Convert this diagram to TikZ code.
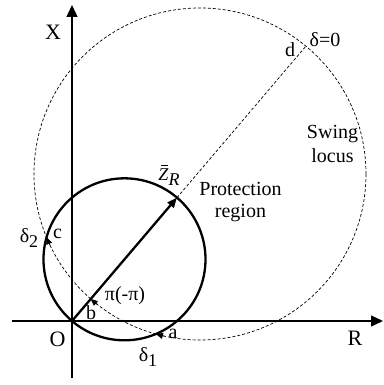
\documentclass[tikz,border=0pt]{standalone}
\usepackage{fontspec}
\setmainfont{Liberation Serif}
\usetikzlibrary{arrows.meta,calc}
\begin{document}
\begin{tikzpicture}[x=1pt,y=1pt,
  lbl/.style={font=\fontsize{20}{22}\selectfont, inner sep=0pt, anchor=base},
  big/.style={lbl, font=\fontsize{22}{24}\selectfont},
  axis/.style={line width=1.3pt, -{Triangle[length=12pt,width=11pt]}},
  locus/.style={line width=0.7pt, dash pattern=on 3pt off 2pt},
  relay/.style={line width=2.3pt},
  swingtip/.style={line width=0.7pt, -{Triangle[length=7pt,width=6pt]}}]
\useasboundingbox (-72,-64) rectangle (311,321);
% axes
\coordinate (O) at (0,0);
\coordinate (xs) at (-60,0); \coordinate (xe) at (311,0);
\coordinate (ys) at (0,-57); \coordinate (ye) at (0,316);
\draw[axis] (xs) -- (xe);
\draw[axis] (ys) -- (ye);
% geometry
\coordinate (S) at (49.6:81);
\coordinate (Z) at (49.6:162);
\coordinate (C) at (128,147);
\coordinate (d) at (49.6:360.9);
% swing locus
\draw[locus] (C) circle[radius=166];
\draw[locus] (Z) -- (d);
% protection region
\draw[relay] (S) circle[radius=81];
\draw[relay, -{Triangle[length=10pt,width=8pt]}] (O) -- (Z);
% direction marks on swing locus
\foreach \t/\s in {202.4/205.4, 228.8/231.8, 254.6/257.6}
  \draw[swingtip] ($(C)+(\s:166)$) arc[start angle=\s, end angle=\t, radius=166];
% labels
\node[big] (lx) at (-19,281) {X};
\node[big] (lo) at (-14.5,-26) {O};
\node[big] (lr) at (283,-24) {R};
\node[lbl] (la) at (101,-17) {a};
\node[lbl] (lb) at (19,1) {b};
\node[lbl] (lc) at (-14.5,82) {c};
\node[lbl] (ld) at (218,264) {d};
\node[lbl] (ld0) at (253,274) {δ=0};
\node[lbl] (lpi) at (53,20) {π(-π)};
\node[lbl] (ld1) at (76,-41) {δ\raisebox{-5pt}{\fontsize{18}{18}\selectfont 1}};
\node[lbl] (ld2) at (-43,78) {δ\raisebox{-5pt}{\fontsize{18}{18}\selectfont 2}};
\node[lbl, font=\fontsize{18}{18}\selectfont\itshape] (lz) at (97,140) {\makebox[0pt][l]{\hspace{3pt}\raisebox{15pt}{\rule{7pt}{0.8pt}}}Z\raisebox{-5pt}{R}};
\node[lbl, align=center, font=\fontsize{20}{21.5}\selectfont] (lp) at (168.5,103.5) {Protection\\region};
\node[lbl, align=center, font=\fontsize{20}{24}\selectfont] (ls) at (260.5,158) {Swing\\locus};
\end{tikzpicture}
\end{document}
